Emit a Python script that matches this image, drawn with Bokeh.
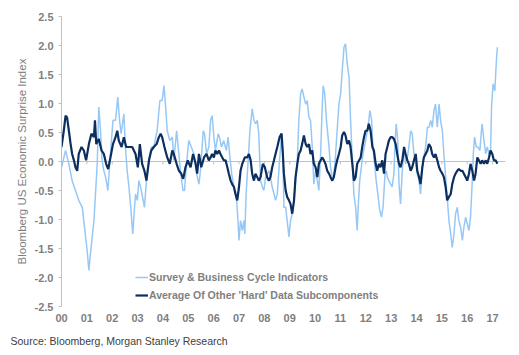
from bokeh.plotting import figure
from bokeh.models import (Span, Legend, LegendItem, FixedTicker, Title, Range1d)
from bokeh.embed import file_html
from bokeh.resources import INLINE

# ---------------- data (years since 2000) ----------------
survey_years = [
    0.00, 0.16, 0.29, 0.42, 0.55, 0.68, 0.82, 0.95, 1.01, 1.08, 1.14, 1.21, 1.28, 1.34, 1.41, 1.47, 1.54, 1.60, 1.67, 1.74,
    1.83, 1.93, 2.03, 2.13, 2.22, 2.29, 2.35, 2.46, 2.52, 2.59, 2.66, 2.74, 2.81,
    2.88, 2.92, 2.99, 3.05, 3.12, 3.22, 3.27, 3.35, 3.45, 3.54, 3.64, 3.77, 3.88, 3.97, 4.04, 4.10, 4.17, 4.27, 4.37, 4.43,
    4.54, 4.63, 4.69, 4.79, 4.85, 4.93, 5.02, 5.12, 5.22, 5.33, 5.42, 5.48, 5.59, 5.64, 5.72, 5.81,
    5.88, 5.94, 6.01, 6.07, 6.18, 6.23, 6.31, 6.40, 6.50, 6.57, 6.63, 6.71, 6.80, 6.89, 6.96, 7.00, 7.06, 7.13, 7.19, 7.23,
    7.28, 7.36, 7.43, 7.52, 7.59, 7.65, 7.72, 7.78, 7.85, 7.92, 7.98, 8.05, 8.18, 8.24, 8.31, 8.38, 8.44, 8.51, 8.60, 8.68, 8.73,
    8.77, 8.84, 8.90, 8.97, 9.03, 9.10, 9.17, 9.23, 9.30, 9.36, 9.43, 9.49, 9.56, 9.63, 9.69, 9.76, 9.82, 9.89, 9.95, 10.02,
    10.09, 10.15, 10.22, 10.28, 10.32, 10.38, 10.45, 10.55, 10.61, 10.68, 10.74, 10.81, 10.87, 10.94, 11.01, 11.07, 11.14,
    11.20, 11.27, 11.34, 11.40, 11.47, 11.53, 11.60, 11.66,
    11.70, 11.76, 11.84, 11.89, 11.97, 12.06, 12.12, 12.16, 12.23, 12.28, 12.36, 12.41, 12.49, 12.55, 12.62, 12.68, 12.76,
    12.81, 12.85, 12.91, 12.98, 13.04, 13.11, 13.15, 13.20, 13.26, 13.31, 13.37, 13.44, 13.51, 13.57, 13.64, 13.70, 13.77,
    13.83, 13.90, 13.97, 14.03, 14.10, 14.16, 14.23, 14.29, 14.36, 14.43, 14.49, 14.56, 14.62, 14.69, 14.75,
    14.82, 14.89, 14.95, 15.02, 15.08, 15.15, 15.21, 15.28, 15.35, 15.41, 15.48, 15.54, 15.61, 15.67, 15.74, 15.81, 15.87,
    15.94, 16.00, 16.07, 16.13, 16.20, 16.24, 16.29, 16.36, 16.42, 16.50, 16.56, 16.59, 16.66, 16.73, 16.79, 16.86, 16.92,
    16.96, 17.02, 17.05, 17.09, 17.13, 17.16, 17.19,
]
survey_values = [
    -0.10, 0.19, -0.04, -0.33, -0.50, -0.67, -0.79, -1.30, -1.53, -1.88, -1.59, -1.30, -1.02, -0.56, -0.04, 0.94, 0.53, 0.02, -0.16, -0.27,
    -0.50, 0.13, 0.71, 0.71, 1.11, 0.71, 0.48, 0.82, 0.25, -0.16, -0.44, -0.84, -1.25,
    -0.79, -0.56, -0.67, -0.33, -0.44, -0.67, -0.79, -0.33, 0.02, 0.25, 0.25, 0.53, 1.05, 1.05, 1.31, 0.99, 0.53, 0.36, 0.42, 0.02,
    0.53, 0.13, -0.16, -0.50, -0.50, -0.04, 0.36, 0.25, 0.13, -0.21, -0.39, -0.16, 0.53, 0.48, 0.13, 0.25,
    0.71, 0.79, 0.42, 0.19, 0.48, 0.42, 0.25, 0.36, 0.19, 0.42, 0.13, -0.21, -0.44, -0.56, -1.02, -1.36, -1.02, -1.19, -1.02, -1.25,
    -0.56, 0.02, 0.53, 0.91, 0.71, 0.65, 0.71, 0.48, -0.33, -0.44, -0.50, -0.27, -0.16, -0.27, -0.44, -0.56, -0.67, -0.56, 0.02, 0.48, 0.13,
    -0.79, -0.79, -1.02, -1.30, -1.02, -0.90, -0.67, -0.33, 0.02, 0.71, 1.17, 1.25, 1.11, 0.99, 1.05, 0.76, 0.71, 0.25, -0.39, -0.16,
    -0.33, -0.50, 0.13, 0.94, 1.31, 1.17, 0.71, 0.25, -0.10, -0.27, -0.27, 0.13, 0.53, 0.99, 1.17, 1.57, 1.97,
    2.03, 1.68, 1.45, 0.71, 0.02, -0.56, -0.79, -1.19,
    -0.79, -0.33, -0.04, 0.13, 0.30, 0.53, 0.71, 0.88, 0.71, 0.25, -0.10, -0.33, -0.61, -0.84, -0.96, -0.79, -0.21,
    -0.16, -0.27, -0.33, -0.39, -0.44, -0.21, 0.30, 0.65, 0.36, -0.39, -0.73, -0.16, 0.25, -0.04, 0.07, 0.25, 0.53,
    0.48, 0.13, -0.04, -0.21, -0.33, -0.56, -0.10, 0.07, 0.25, 0.59, 0.59, 0.71, 0.59, 0.88, 0.99,
    0.59, 0.99, 0.71, 0.53, 0.13, -0.27, -0.61, -1.02, -1.25, -1.48, -1.25, -0.90, -0.79, -1.02, -1.13, -1.36, -1.13,
    -0.96, -1.07, -1.19, -0.96, -0.33, 0.13, 0.42, 0.25, 0.25, 0.19, 0.53, 0.65, 0.36, 0.13, 0.25, 0.13, 0.13,
    0.94, 1.34, 1.28, 1.22, 1.57, 1.80, 1.97,
]

hard_years = [
    0.00, 0.09, 0.16, 0.22, 0.29, 0.36, 0.42, 0.49, 0.55, 0.62, 0.68, 0.79, 0.88, 0.97, 1.08, 1.18, 1.28, 1.32, 1.37, 1.47,
    1.58, 1.67, 1.76, 1.84, 1.93, 2.03, 2.13, 2.20, 2.26, 2.37, 2.46, 2.55, 2.66, 2.79,
    2.92, 3.01, 3.09, 3.18, 3.27, 3.35, 3.45, 3.54, 3.64, 3.75, 3.84, 3.91, 3.97, 4.06, 4.17, 4.27, 4.37, 4.43, 4.54, 4.63,
    4.72, 4.80, 4.89, 4.98, 5.09, 5.19, 5.29, 5.35, 5.42, 5.51, 5.62, 5.72, 5.81,
    5.88, 5.94, 6.01, 6.07, 6.14, 6.21, 6.27, 6.34, 6.40, 6.47, 6.54, 6.60, 6.67, 6.73, 6.80, 6.86, 6.93, 7.00, 7.06, 7.13,
    7.23, 7.32, 7.39, 7.46, 7.52, 7.59, 7.65, 7.72, 7.78, 7.85, 7.94, 8.02, 8.11, 8.18, 8.24, 8.31, 8.38, 8.44, 8.51, 8.60,
    8.68, 8.73,
    8.77, 8.84, 8.90, 8.97, 9.03, 9.10, 9.17, 9.23, 9.30, 9.36, 9.43, 9.49, 9.56, 9.63, 9.69, 9.76, 9.82, 9.89, 9.95, 10.02,
    10.09, 10.15, 10.22, 10.28, 10.35, 10.41, 10.48, 10.55, 10.61, 10.68, 10.74, 10.81, 10.87, 10.94, 11.01, 11.07, 11.14,
    11.20, 11.27, 11.34, 11.40, 11.47, 11.53, 11.60, 11.66,
    11.80, 11.86, 11.93, 11.99, 12.06, 12.12, 12.19, 12.26, 12.32, 12.39, 12.45, 12.52, 12.58, 12.65, 12.72, 12.78, 12.85,
    12.91, 12.98, 13.04, 13.11, 13.18, 13.24, 13.31, 13.37, 13.44, 13.51, 13.57, 13.64, 13.70, 13.77, 13.83, 13.90, 13.97,
    14.03, 14.10, 14.16, 14.23, 14.29, 14.36, 14.43, 14.49, 14.56, 14.62, 14.69,
    14.75, 14.82, 14.89, 14.95, 15.02, 15.08, 15.15, 15.21, 15.28, 15.35, 15.41, 15.48, 15.54, 15.61, 15.67, 15.74, 15.81,
    15.87, 15.94, 16.00, 16.07, 16.13, 16.20, 16.27, 16.33, 16.40, 16.46, 16.53, 16.59, 16.66, 16.73, 16.79, 16.86, 16.92,
    16.99, 17.05, 17.12, 17.19,
]
hard_values = [
    0.25, 0.53, 0.79, 0.76, 0.53, 0.30, 0.13, 0.02, -0.10, -0.16, 0.13, 0.25, 0.19, 0.02, 0.30, 0.48, 0.42, 0.71, 0.30, 0.39,
    0.19, 0.13, -0.04, -0.13, 0.07, 0.30, 0.42, 0.53, 0.36, 0.25, 0.42, 0.25, 0.25, 0.25,
    0.13, -0.10, 0.30, -0.04, -0.16, -0.33, 0.02, 0.19, 0.25, 0.30, 0.42, 0.48, 0.42, 0.25, 0.07, -0.04, 0.19, 0.13, -0.04, -0.16,
    -0.21, -0.30, -0.10, 0.02, -0.10, 0.13, -0.04, -0.21, 0.13, -0.10, 0.07, 0.13, 0.02,
    0.07, 0.13, 0.07, 0.19, 0.13, 0.19, 0.13, 0.07, 0.02, 0.02, -0.10, -0.21, -0.33, -0.39, -0.44, -0.56, -0.67, -0.44, -0.16, -0.04,
    0.07, 0.07, 0.13, 0.02, -0.21, -0.33, -0.21, -0.27, -0.33, -0.27, -0.04, -0.10, -0.27, -0.33, -0.27, -0.10, 0.02, 0.13, 0.25, 0.42,
    0.48, 0.13,
    -0.21, -0.50, -0.61, -0.67, -0.73, -0.90, -0.67, -0.27, -0.04, 0.13, 0.19, 0.30, 0.45, 0.30, 0.25, 0.30, 0.13, 0.19, -0.04, -0.10,
    -0.27, -0.04, 0.02, 0.07, 0.02, -0.04, -0.16, -0.21, -0.27, -0.33, -0.27, -0.10, 0.02, 0.13, 0.25, 0.45, 0.51,
    0.45, 0.30, 0.36, 0.25, -0.04, -0.33, -0.27, -0.04,
    0.07, 0.25, 0.42, 0.53, 0.53, 0.65, 0.53, 0.25, 0.19, -0.04, -0.16, -0.04, -0.10, 0.02, -0.21, 0.13, 0.25,
    0.36, 0.42, 0.42, 0.39, 0.30, 0.13, -0.04, -0.10, 0.02, 0.25, 0.13, 0.02, -0.04, -0.16, -0.10, 0.02, 0.13,
    -0.16, -0.27, -0.39, -0.10, 0.07, 0.13, 0.19, 0.30, 0.25, 0.13, 0.07,
    0.13, 0.02, -0.10, -0.16, -0.21, -0.27, -0.44, -0.67, -0.61, -0.56, -0.39, -0.27, -0.21, -0.16, -0.13, -0.16, -0.16,
    -0.21, -0.27, -0.33, -0.21, -0.04, -0.16, -0.33, -0.21, 0.07, 0.02, -0.04, 0.02, -0.04, 0.02, -0.04, 0.07, 0.19,
    0.13, 0.02, 0.02, -0.04,
]

x_ticks = list(range(0, 18))
x_tick_labels = ["00", "01", "02", "03", "04", "05", "06", "07", "08", "09",
                 "10", "11", "12", "13", "14", "15", "16", "17"]
y_ticks = [-2.5, -2.0, -1.5, -1.0, -0.5, 0.0, 0.5, 1.0, 1.5, 2.0, 2.5]
y_tick_labels = ["-2.5", "-2.0", "-1.5", "-1.0", "-0.5", "0.0", "0.5", "1.0", "1.5", "2.0", "2.5"]

series_names = ["Survey & Business Cycle Indicators", "Average Of Other 'Hard' Data Subcomponents"]
source_text = "Source: Bloomberg, Morgan Stanley Research"

# ---------------- styling ----------------
LIGHT = "#97c8f5"
NAVY = "#0c2f5f"
GRAY_TXT = "#7f7f7f"
AXIS_GRAY = "#c0c0c0"
FONT = "Liberation Sans"

p = figure(width=511, height=355, output_backend="svg", toolbar_location=None,
           x_range=Range1d(0, 17.51), y_range=Range1d(-2.5, 2.5),
           min_border_left=61, min_border_right=6, min_border_top=16, min_border_bottom=49)
p.outline_line_color = None
p.xgrid.visible = False
p.ygrid.visible = False
p.background_fill_color = "white"
p.border_fill_color = "white"

zero = Span(location=0, dimension="width", line_color=AXIS_GRAY, line_width=1, level="underlay")
p.add_layout(zero)
p.segment(x0=x_ticks, y0=[0] * len(x_ticks), x1=x_ticks, y1=[-0.05] * len(x_ticks),
          line_color=AXIS_GRAY, line_width=1, level="underlay")

r1 = p.line(survey_years, survey_values, line_color=LIGHT, line_width=1.5)
r2 = p.line(hard_years, hard_values, line_color=NAVY, line_width=2.2)

# axes
xa = p.xaxis[0]
xa.ticker = FixedTicker(ticks=x_ticks)
xa.major_label_overrides = {t: l for t, l in zip(x_ticks, x_tick_labels)}
xa.axis_line_color = None
xa.major_tick_line_color = None
xa.major_tick_out = 0
xa.major_tick_in = 0
xa.minor_tick_line_color = None
xa.minor_tick_out = 0
xa.major_label_standoff = 7
xa.major_label_text_font = FONT
xa.major_label_text_font_size = "11px"
xa.major_label_text_font_style = "bold"
xa.major_label_text_color = GRAY_TXT

ya = p.yaxis[0]
ya.ticker = FixedTicker(ticks=y_ticks)
ya.major_label_overrides = {t: l for t, l in zip(y_ticks, y_tick_labels)}
ya.axis_line_color = AXIS_GRAY
ya.major_tick_line_color = AXIS_GRAY
ya.major_tick_out = 3
ya.major_tick_in = 0
ya.minor_tick_line_color = None
ya.minor_tick_out = 0
ya.major_label_standoff = 5
ya.major_label_text_font = FONT
ya.major_label_text_font_size = "11px"
ya.major_label_text_font_style = "bold"
ya.major_label_text_color = GRAY_TXT
ya.axis_label = "Bloomberg US Economic Surprise Index"
ya.axis_label_text_font = FONT
ya.axis_label_text_font_size = "11.5px"
ya.axis_label_text_font_style = "normal"
ya.axis_label_text_color = GRAY_TXT
ya.axis_label_standoff = 4

legend = Legend(items=[LegendItem(label=series_names[0], renderers=[r1]),
                       LegendItem(label=series_names[1], renderers=[r2])],
                location=(74, 3), orientation="vertical",
                margin=0, padding=0, spacing=2,
                glyph_width=13, glyph_height=16, label_height=16, label_standoff=1,
                label_text_font=FONT, label_text_font_size="10.5px", label_text_font_style="bold",
                label_text_color=GRAY_TXT,
                background_fill_alpha=0, border_line_alpha=0)
p.add_layout(legend)

src = Title(text=source_text, align="left", offset=-51, standoff=17,
            text_font=FONT, text_font_size="10.5px", text_font_style="normal",
            text_color="#404040")
p.add_layout(src, "below")

open("out.html", "w").write(file_html(p, INLINE))
